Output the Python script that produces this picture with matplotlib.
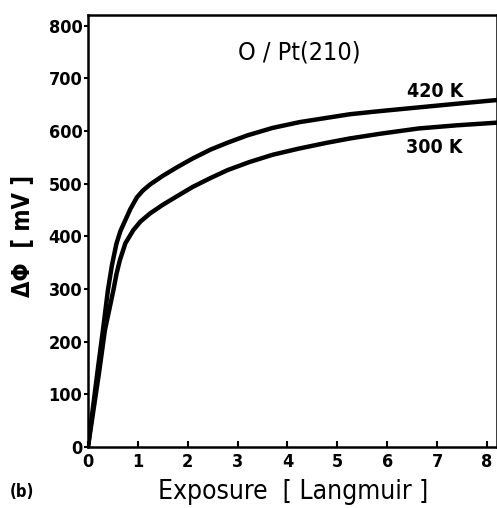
import matplotlib
matplotlib.use("Agg")
import matplotlib.pyplot as plt

# Data
x_420 = [0, 0.1, 0.2, 0.30, 0.40, 0.48, 0.57, 0.65, 0.74, 0.85, 0.98, 1.1, 1.25, 1.5, 1.78, 2.1, 2.46, 2.8, 3.2, 3.7, 4.24, 5.25, 5.86, 6.63, 7.4, 8.2]
y_420 = [0, 75, 150, 222, 298, 345, 386, 410, 429, 452, 474, 487, 499, 515, 531, 548, 565, 578, 592, 606, 617, 632, 638, 645, 652, 659]
x_300 = [0, 0.11, 0.22, 0.34, 0.43, 0.51, 0.57, 0.64, 0.75, 0.91, 1.05, 1.25, 1.5, 1.78, 2.1, 2.46, 2.8, 3.23, 3.7, 4.24, 4.8, 5.25, 5.86, 6.63, 7.4, 8.2]
y_300 = [0, 70, 140, 222, 262, 298, 328, 355, 387, 412, 428, 444, 460, 476, 494, 511, 526, 541, 555, 567, 578, 586, 595, 605, 611, 616]
x_ticks = [0, 1, 2, 3, 4, 5, 6, 7, 8]
y_ticks = [0, 100, 200, 300, 400, 500, 600, 700, 800]

fam = ['DejaVu Sans']
stretch = 'condensed'

fig = plt.figure(figsize=(4.97, 5.08), dpi=100)
ax = fig.add_axes([0.177, 0.12, 0.823, 0.85])
ax.plot(x_420, y_420, color='black', lw=3.2, solid_capstyle='round', solid_joinstyle='round')
ax.plot(x_300, y_300, color='black', lw=3.2, solid_capstyle='round', solid_joinstyle='round')
ax.set_xlim(0, 8.2)
ax.set_ylim(0, 820)
ax.set_xticks(x_ticks)
ax.set_yticks(y_ticks)
ax.set_xticks([5], minor=True)
ax.tick_params(axis='x', which='major', direction='in', length=4, width=1.5, pad=4)
ax.tick_params(axis='x', which='minor', direction='in', length=8, width=1.5)
ax.tick_params(axis='y', direction='out', length=3, width=1.5, pad=1)
for lab in ax.get_xticklabels() + ax.get_yticklabels():
    lab.set_fontfamily(fam)
    lab.set_fontstretch(stretch)
    lab.set_fontsize(13)
    lab.set_fontweight('bold')
for sp in ax.spines.values():
    sp.set_linewidth(1.8)

ax.text(4.24, 750, 'O / Pt(210)', ha='center', va='center', fontsize=18, family=fam, stretch=stretch)
ax.text(6.95, 675, '420 K', ha='center', va='center', fontsize=14, fontweight='bold', family=fam, stretch=stretch)
ax.text(6.95, 569, '300 K', ha='center', va='center', fontsize=14, fontweight='bold', family=fam, stretch=stretch)

fig.text(0.59, 0.031, 'Exposure  [ Langmuir ]', ha='center', va='center', fontsize=19, family=fam, stretch=stretch)
fig.text(0.046, 0.535, 'ΔΦ  [ mV ]', ha='center', va='center', rotation=90, fontsize=17, fontweight='bold', family=fam, stretch=stretch)
fig.text(0.045, 0.031, '(b)', ha='center', va='center', fontsize=12, fontweight='bold', family=fam, stretch=stretch)

fig.savefig('out.png', dpi=100)
